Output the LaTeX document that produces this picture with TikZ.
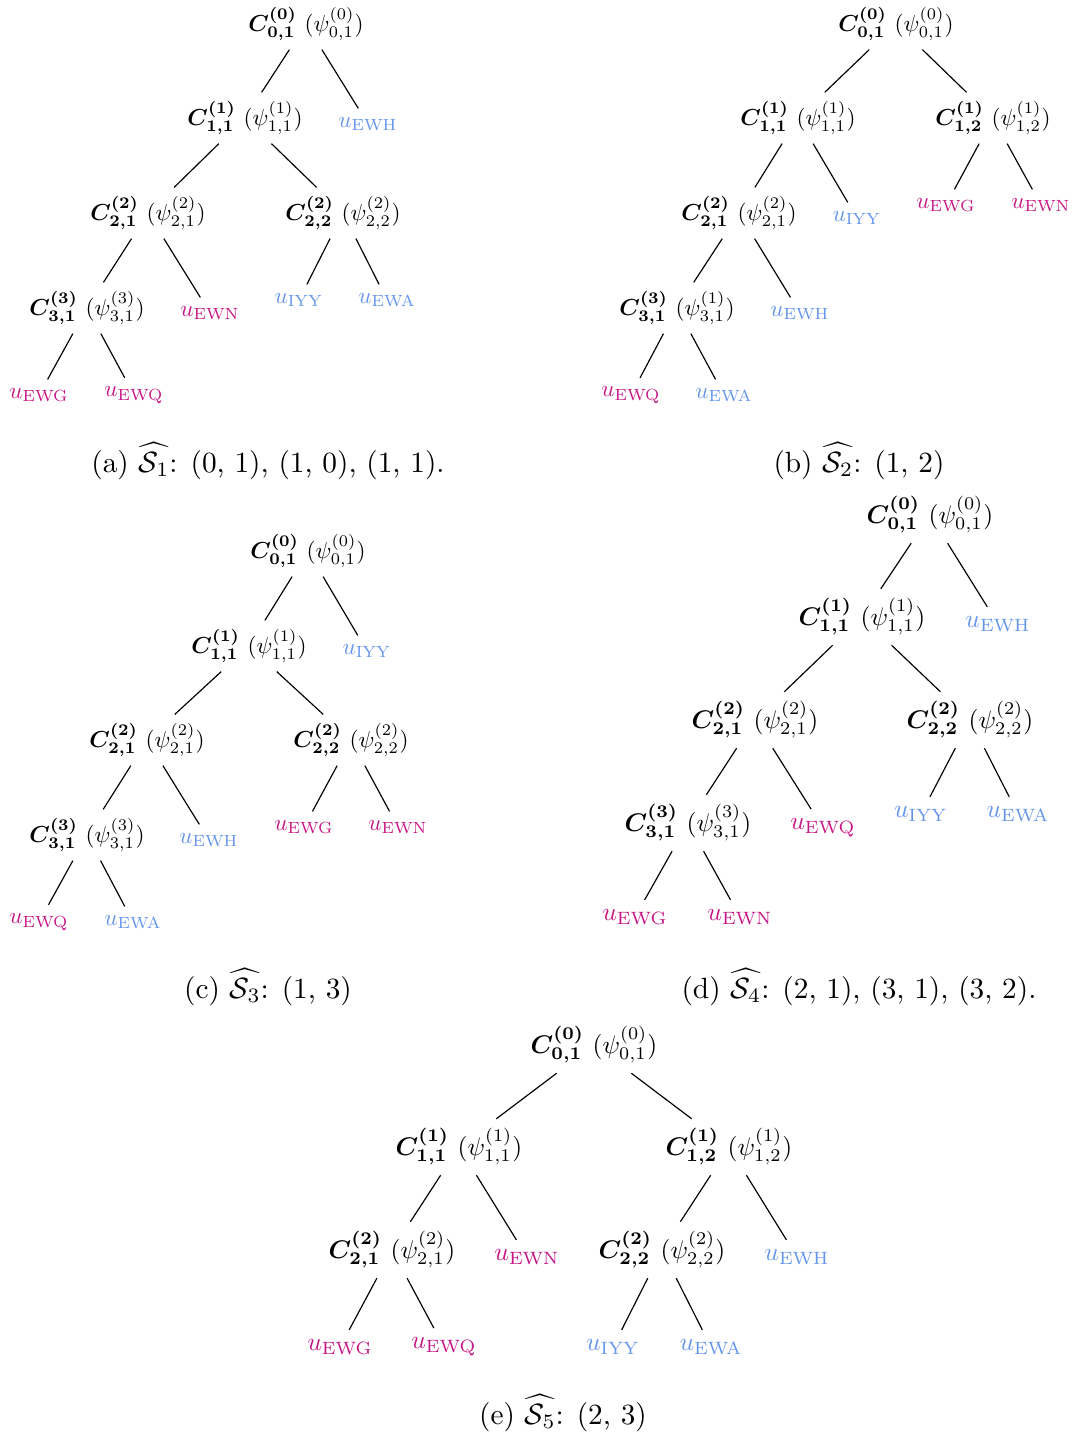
\documentclass[tikz,border=0pt]{standalone}
\usepackage{amsmath,amssymb,bm}
\definecolor{umag}{HTML}{C71585}
\definecolor{ublue}{HTML}{6495ED}
% internal node label: bold C with bracketed psi
\newcommand\CLab[3]{$\bm{C^{(#1)}_{#2}}$ $(\psi^{(#3)}_{#2})$}
\newcommand\ULab[1]{$u_{\mathrm{#1}}$}
\begin{document}
\begin{tikzpicture}[x=0.3413pt,y=-0.3413pt,
  sm/.style={inner sep=3.63pt,scale=0.79},
  lg/.style={inner sep=3.63pt,scale=0.87},
  mg/.style={text=umag},
  bl/.style={text=ublue},
  br/.style={line width=0.4pt,black},
  captext/.style={inner sep=0pt}]
\useasboundingbox (0,0) rectangle (1074,1434);

% ---------- (a) ----------
\begin{scope}[every node/.append style={sm}]
\node (a0)  at (306,24)  {\CLab{0}{0,1}{0}};
\node (a11) at (245,118) {\CLab{1}{1,1}{1}};
\node[bl] (aH) at (368,124) {\ULab{EWH}};
\node (a21) at (148,213) {\CLab{2}{2,1}{2}};
\node (a22) at (343,213) {\CLab{2}{2,2}{2}};
\node (a31) at (87,308)  {\CLab{3}{3,1}{3}};
\node[mg] (aN) at (210,313) {\ULab{EWN}};
\node[bl] (aI) at (299,300) {\ULab{IYY}};
\node[bl] (aA) at (387,300) {\ULab{EWA}};
\node[mg] (aG) at (39,395)  {\ULab{EWG}};
\node[mg] (aQ) at (134,395) {\ULab{EWQ}};
\end{scope}
\draw[br] (a0) -- (a11); \draw[br] (a0) -- (aH);
\draw[br] (a11) -- (a21); \draw[br] (a11) -- (a22);
\draw[br] (a21) -- (a31); \draw[br] (a21) -- (aN);
\draw[br] (a22) -- (aI); \draw[br] (a22) -- (aA);
\draw[br] (a31) -- (aG); \draw[br] (a31) -- (aQ);
\node[captext] (capa) at (268,461) {(a) $\widehat{\mathcal{S}_1}$: (0, 1), (1, 0), (1, 1).};

% ---------- (b) ----------
\begin{scope}[every node/.append style={sm}]
\node (b0)  at (896,24)  {\CLab{0}{0,1}{0}};
\node (b11) at (798,118) {\CLab{1}{1,1}{1}};
\node (b12) at (993,118) {\CLab{1}{1,2}{1}};
\node (b21) at (739,213) {\CLab{2}{2,1}{2}};
\node[bl] (bI) at (857,218) {\ULab{IYY}};
\node[mg] (bG) at (946,205) {\ULab{EWG}};
\node[mg] (bN) at (1041,205) {\ULab{EWN}};
\node (b31) at (677,308) {\CLab{3}{3,1}{1}};
\node[bl] (bH) at (800,313) {\ULab{EWH}};
\node[mg] (bQ) at (631,395) {\ULab{EWQ}};
\node[bl] (bA) at (724,395) {\ULab{EWA}};
\end{scope}
\draw[br] (b0) -- (b11); \draw[br] (b0) -- (b12);
\draw[br] (b11) -- (b21); \draw[br] (b11) -- (bI);
\draw[br] (b12) -- (bG); \draw[br] (b12) -- (bN);
\draw[br] (b21) -- (b31); \draw[br] (b21) -- (bH);
\draw[br] (b31) -- (bQ); \draw[br] (b31) -- (bA);
\node[captext] (capb) at (859,461) {(b) $\widehat{\mathcal{S}_2}$: (1, 2)};

% ---------- (c) ----------
\begin{scope}[every node/.append style={sm}]
\node (c0)  at (308,551) {\CLab{0}{0,1}{0}};
\node (c11) at (249,646) {\CLab{1}{1,1}{1}};
\node[bl] (cI) at (367,651) {\ULab{IYY}};
\node (c21) at (147,740) {\CLab{2}{2,1}{2}};
\node (c22) at (351,740) {\CLab{2}{2,2}{2}};
\node (c31) at (87,835)  {\CLab{3}{3,1}{3}};
\node[bl] (cH) at (209,840) {\ULab{EWH}};
\node[mg] (cG) at (304,827) {\ULab{EWG}};
\node[mg] (cN) at (398,827) {\ULab{EWN}};
\node[mg] (cQ) at (39,922)  {\ULab{EWQ}};
\node[bl] (cA) at (133,922) {\ULab{EWA}};
\end{scope}
\draw[br] (c0) -- (c11); \draw[br] (c0) -- (cI);
\draw[br] (c11) -- (c21); \draw[br] (c11) -- (c22);
\draw[br] (c21) -- (c31); \draw[br] (c21) -- (cH);
\draw[br] (c22) -- (cG); \draw[br] (c22) -- (cN);
\draw[br] (c31) -- (cQ); \draw[br] (c31) -- (cA);
\node[captext] (capc) at (268,987) {(c) $\widehat{\mathcal{S}_3}$: (1, 3)};

% ---------- (d) ----------
\begin{scope}[every node/.append style={lg}]
\node (d0)  at (930,515) {\CLab{0}{0,1}{0}};
\node (d11) at (862,617) {\CLab{1}{1,1}{1}};
\node[bl] (dH) at (998,624) {\ULab{EWH}};
\node (d21) at (755,720) {\CLab{2}{2,1}{2}};
\node (d22) at (970,720) {\CLab{2}{2,2}{2}};
\node (d31) at (688,823) {\CLab{3}{3,1}{3}};
\node[mg] (dQ) at (823,828) {\ULab{EWQ}};
\node[bl] (dI) at (921,814) {\ULab{IYY}};
\node[bl] (dA) at (1018,814) {\ULab{EWA}};
\node[mg] (dG) at (635,917) {\ULab{EWG}};
\node[mg] (dN) at (740,917) {\ULab{EWN}};
\end{scope}
\draw[br] (d0) -- (d11); \draw[br] (d0) -- (dH);
\draw[br] (d11) -- (d21); \draw[br] (d11) -- (d22);
\draw[br] (d21) -- (d31); \draw[br] (d21) -- (dQ);
\draw[br] (d22) -- (dI); \draw[br] (d22) -- (dA);
\draw[br] (d31) -- (dG); \draw[br] (d31) -- (dN);
\node[captext] (capd) at (859,987) {(d) $\widehat{\mathcal{S}_4}$: (2, 1), (3, 1), (3, 2).};

% ---------- (e) ----------
\begin{scope}[every node/.append style={lg}]
\node (e0)  at (594,1045) {\CLab{0}{0,1}{0}};
\node (e11) at (459,1147) {\CLab{1}{1,1}{1}};
\node (e12) at (729,1147) {\CLab{1}{1,2}{1}};
\node (e21) at (392,1250) {\CLab{2}{2,1}{2}};
\node[mg] (eN) at (527,1257) {\ULab{EWN}};
\node (e22) at (662,1250) {\CLab{2}{2,2}{2}};
\node[bl] (eH) at (797,1257) {\ULab{EWH}};
\node[mg] (eG) at (340,1347) {\ULab{EWG}};
\node[mg] (eQ) at (444,1347) {\ULab{EWQ}};
\node[bl] (eI) at (613,1347) {\ULab{IYY}};
\node[bl] (eA) at (711,1347) {\ULab{EWA}};
\end{scope}
\draw[br] (e0) -- (e11); \draw[br] (e0) -- (e12);
\draw[br] (e11) -- (e21); \draw[br] (e11) -- (eN);
\draw[br] (e12) -- (e22); \draw[br] (e12) -- (eH);
\draw[br] (e21) -- (eG); \draw[br] (e21) -- (eQ);
\draw[br] (e22) -- (eI); \draw[br] (e22) -- (eA);
\node[captext] (cape) at (563,1413) {(e) $\widehat{\mathcal{S}_5}$: (2, 3)};
\end{tikzpicture}
\end{document}
